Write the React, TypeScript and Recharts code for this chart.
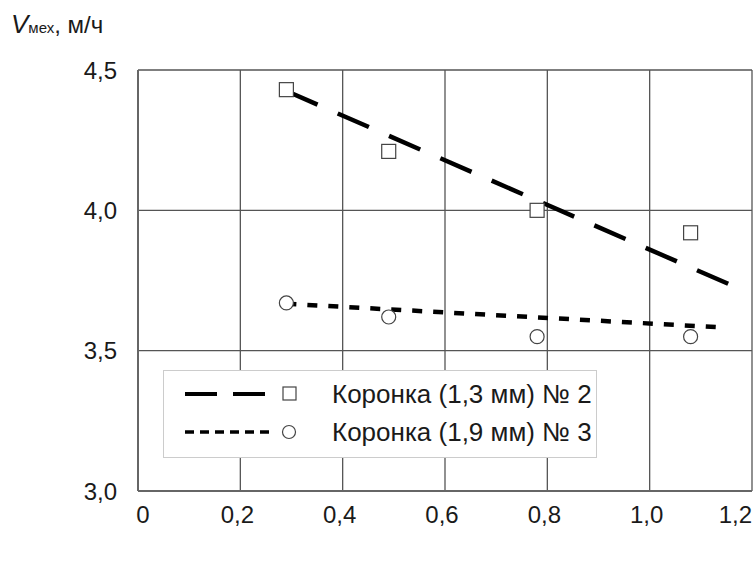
import {
  ComposedChart,
  Line,
  Scatter,
  XAxis,
  YAxis,
  CartesianGrid,
  Legend,
} from "recharts";

// толщина коронки, мм (ось X) и механическая скорость, м/ч
const thickness = [0.29, 0.49, 0.78, 1.08];
const speedCrown2 = [4.43, 4.21, 4.0, 3.92];
const speedCrown3 = [3.67, 3.62, 3.55, 3.55];

// линии тренда (концы)
const trendX2 = [0.29, 1.17];
const trendY2 = [4.425, 3.725];
const trendX3 = [0.29, 1.15];
const trendY3 = [3.667, 3.582];

const xTicks = [0, 0.2, 0.4, 0.6, 0.8, 1.0, 1.2];
const yTicks = [3.0, 3.5, 4.0, 4.5];

const seriesNames = ["Коронка (1,3 мм) № 2", "Коронка (1,9 мм) № 3"];

const FONT = "'Liberation Sans', Arial, sans-serif";
const INK = "#1a1a1a";

const points2 = thickness.map((x, i) => ({ x, y: speedCrown2[i] }));
const points3 = thickness.map((x, i) => ({ x, y: speedCrown3[i] }));
const trend2 = trendX2.map((x, i) => ({ x, y: trendY2[i] }));
const trend3 = trendX3.map((x, i) => ({ x, y: trendY3[i] }));

const fmt = (v: number) => (v === 0 ? "0" : v.toFixed(1).replace(".", ","));

const Square = (props: any) => {
  const { cx, cy } = props;
  return (
    <rect x={cx - 7} y={cy - 7} width={14} height={14} fill="#fff" stroke="#444" strokeWidth={1.2} />
  );
};

const Circle = (props: any) => {
  const { cx, cy } = props;
  return <circle cx={cx} cy={cy} r={7} fill="#fff" stroke="#444" strokeWidth={1.2} />;
};

const XTick = (props: any) => {
  const { x, y, payload, index, visibleTicksCount } = props;
  const last = index === visibleTicksCount - 1;
  const first = index === 0;
  return (
    <text
      x={x + (first ? 5 : last ? 0 : -3)}
      y={y}
      dy="0.71em"
      textAnchor={last ? "end" : "middle"}
      fontSize={24}
      fontFamily={FONT}
      fill={INK}
    >
      {fmt(payload.value)}
    </text>
  );
};

const LegendBox = () => (
  <div
    style={{
      width: 432,
      height: 86,
      background: "#fff",
      border: "1px solid #ccc",
      fontFamily: FONT,
      fontSize: 26,
      color: INK,
      position: "relative",
    }}
  >
    {seriesNames.map((name, i) => (
      <div
        key={name}
        style={{
          position: "absolute",
          left: 0,
          top: i === 0 ? 4 : 42,
          height: 38,
          display: "flex",
          alignItems: "center",
        }}
      >
        <svg width={165} height={38} style={{ display: "block" }}>
          {i === 0 ? (
            <>
              <line x1={21} y1={19} x2={101} y2={19} stroke="#000" strokeWidth={4} strokeDasharray="32 16" />
              <rect x={119} y={12} width={13} height={13} fill="#fff" stroke="#444" strokeWidth={1.2} />
            </>
          ) : (
            <>
              <line x1={21} y1={19} x2={106} y2={19} stroke="#000" strokeWidth={3.5} strokeDasharray="9 6" />
              <circle cx={125} cy={19} r={6.5} fill="#fff" stroke="#444" strokeWidth={1.2} />
            </>
          )}
        </svg>
        <span style={{ marginLeft: 3, whiteSpace: "nowrap" }}>{name}</span>
      </div>
    ))}
  </div>
);

export default function App() {
  return (
    <div style={{ position: "absolute", left: 0, top: 0, width: 756, height: 567, background: "#fff" }}>
      <div
        style={{
          position: "absolute",
          left: 11,
          top: 9,
          fontFamily: FONT,
          fontSize: 24,
          color: INK,
          whiteSpace: "nowrap",
        }}
      >
        <span style={{ fontStyle: "italic", fontSize: 26 }}>V</span>
        <span style={{ fontSize: 15 }}>мех</span>
        <span>, м/ч</span>
      </div>
      <ComposedChart width={756} height={567} margin={{ top: 70, right: 4, bottom: 36, left: 0 }}>
        <CartesianGrid stroke="#555" strokeWidth={1.3} horizontalValues={yTicks} verticalValues={xTicks} />
        <XAxis
          type="number"
          dataKey="x"
          domain={[0, 1.2]}
          ticks={xTicks}
          interval={0}
          height={40}
          tickSize={0}
          tickMargin={15}
          tickLine={false}
          axisLine={{ stroke: "#666", strokeWidth: 2 }}
          tick={<XTick />}
          allowDataOverflow
        />
        <YAxis
          type="number"
          dataKey="y"
          domain={[3, 4.5]}
          ticks={yTicks}
          interval={0}
          width={138}
          tickSize={0}
          tickMargin={21}
          tickLine={false}
          axisLine={{ stroke: "#666", strokeWidth: 2 }}
          tickFormatter={fmt}
          tick={{ fontSize: 24, fontFamily: FONT, fill: INK }}
          allowDataOverflow
        />
        <Line
          data={trend2}
          dataKey="y"
          type="linear"
          stroke="#000"
          strokeWidth={4.5}
          strokeDasharray="34 22"
          dot={false}
          activeDot={false}
          isAnimationActive={false}
          name={seriesNames[0]}
        />
        <Line
          data={trend3}
          dataKey="y"
          type="linear"
          stroke="#000"
          strokeWidth={4.5}
          strokeDasharray="10 11"
          dot={false}
          activeDot={false}
          isAnimationActive={false}
          name={seriesNames[1]}
        />
        <Scatter data={points2} dataKey="y" shape={<Square />} isAnimationActive={false} />
        <Scatter data={points3} dataKey="y" shape={<Circle />} isAnimationActive={false} />
        <Legend
          layout="horizontal"
          verticalAlign="middle"
          content={<LegendBox />}
          wrapperStyle={{ left: 163, top: 370, width: 434, height: 88 }}
        />
      </ComposedChart>
    </div>
  );
}
